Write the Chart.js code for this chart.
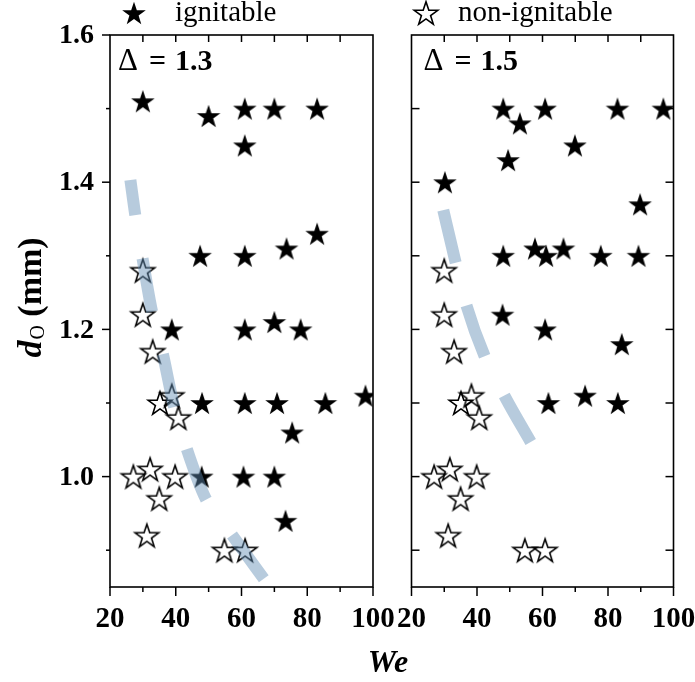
<!DOCTYPE html>
<html><head><meta charset="utf-8">
<script src="https://cdn.jsdelivr.net/npm/chart.js@4"></script>
<style>
html,body{margin:0;padding:0;background:#fff;}
#wrap{position:relative;width:695px;height:682px;background:#fff;}
#wrap canvas{position:absolute;left:0;top:0;}
</style></head><body>
<div id="wrap"><canvas id="c1" width="695" height="682"></canvas><canvas id="c2" width="695" height="682"></canvas></div>
<script>
// ---------- data ----------
const weMajor = [20, 40, 60, 80, 100];
const weMinor = [30, 50, 70, 90];
const weTickLabels = ['20', '40', '60', '80', '100'];
const dMajor = [1.0, 1.2, 1.4, 1.6];
const dMinor = [0.9, 1.1, 1.3, 1.5];
const dTickLabels = ['1.0', '1.2', '1.4', '1.6'];
const legendLabels = ['ignitable', 'non-ignitable'];
const panelDeltas = ['1.3', '1.5'];

// Delta = 1.3
const ign13We = [30, 50, 61, 61, 70, 83, 83, 47.4, 61, 73.7, 38.8, 61, 70, 78, 48, 61, 70.8, 85.5, 97.7, 75.4, 47.9, 60.6, 70, 73.4];
const ign13D  = [1.51, 1.49, 1.50, 1.45, 1.50, 1.50, 1.33, 1.30, 1.30, 1.31, 1.20, 1.20, 1.21, 1.20, 1.10, 1.10, 1.10, 1.10, 1.11, 1.06, 1.00, 1.00, 1.00, 0.94];
const non13We = [30, 30, 33, 35.2, 38.8, 40.8, 27.1, 32.2, 39.8, 35, 31.2, 54.8, 61.1];
const non13D  = [1.28, 1.22, 1.17, 1.10, 1.11, 1.08, 1.00, 1.01, 1.00, 0.97, 0.92, 0.90, 0.90];
const guide13We = [26.2, 27.7, 29.8, 32.7, 35.9, 39.5, 43.1, 49.0, 56.4, 67.8];
const guide13D  = [1.403, 1.355, 1.299, 1.226, 1.170, 1.095, 1.041, 0.971, 0.925, 0.855];

// Delta = 1.5
const ign15We = [48, 53.1, 60.8, 49.5, 69.9, 82.9, 96.9, 30.2, 89.8, 48, 57.7, 61.1, 66.4, 77.8, 89.3, 47.8, 60.8, 84.2, 61.8, 73, 83];
const ign15D  = [1.50, 1.48, 1.50, 1.43, 1.45, 1.50, 1.50, 1.40, 1.37, 1.30, 1.31, 1.30, 1.31, 1.30, 1.30, 1.22, 1.20, 1.18, 1.10, 1.11, 1.10];
const non15We = [30, 30, 33, 35.1, 38.3, 40.7, 26.9, 31.7, 39.9, 35, 31.2, 54.6, 60.8];
const non15D  = [1.28, 1.22, 1.17, 1.10, 1.11, 1.08, 1.00, 1.01, 1.00, 0.97, 0.92, 0.90, 0.90];
const guide15We = [29.7, 33.3, 36.9, 42.2, 48.6, 56.4];
const guide15D  = [1.362, 1.294, 1.231, 1.165, 1.108, 1.047];

// ---------- helpers ----------
const zip = (xs, ys) => xs.map((v, i) => ({x: v, y: ys[i]}));
function makeStar(filled) {
  const s = 30, c = document.createElement('canvas');
  c.width = s; c.height = s;
  const g = c.getContext('2d');
  const cx = s / 2, cy = s / 2 + 1.1, R = 12.4, r = R * 0.39;
  g.beginPath();
  for (let i = 0; i < 10; i++) {
    const ang = -Math.PI / 2 + i * Math.PI / 5;
    const rr = (i % 2) ? r : R;
    g.lineTo(cx + rr * Math.cos(ang), cy + rr * Math.sin(ang));
  }
  g.closePath();
  if (filled) { g.fillStyle = '#000'; g.fill(); }
  else { g.lineWidth = 1.6; g.strokeStyle = '#000'; g.lineJoin = 'miter'; g.stroke(); }
  return c;
}
const starFilled = makeStar(true);
const starOpen = makeStar(false);
const SERIF = '"Liberation Serif", "Times New Roman", serif';

const framePlugin = {
  id: 'frame',
  afterDraw(chart, args, o) {
    const {ctx, chartArea: a} = chart;
    const x = chart.scales.x, y = chart.scales.y;
    ctx.save();
    ctx.strokeStyle = '#000';
    ctx.lineWidth = 1.6;
    ctx.strokeRect(a.left, a.top, a.right - a.left, a.bottom - a.top);
    ctx.lineWidth = 1.5;
    const line = (x1, y1, x2, y2) => { ctx.beginPath(); ctx.moveTo(x1, y1); ctx.lineTo(x2, y2); ctx.stroke(); };
    weMajor.forEach(v => { const p = x.getPixelForValue(v); line(p, a.bottom, p, a.bottom + 9); });
    weMinor.forEach(v => { const p = x.getPixelForValue(v); line(p, a.bottom, p, a.bottom + 5); });
    weMajor.concat(weMinor).forEach(v => {
      const p = x.getPixelForValue(v);
      if (p > a.left + 1 && p < a.right - 1) line(p, a.top, p, a.top + 7);
    });
    if (o.left === 'out') {
      dMajor.forEach(v => { const p = y.getPixelForValue(v); line(a.left - 8, p, a.left, p); });
      dMinor.forEach(v => { const p = y.getPixelForValue(v); line(a.left - 4, p, a.left, p); });
    } else if (o.left === 'in') {
      dMajor.concat(dMinor).forEach(v => { const p = y.getPixelForValue(v); if (p > a.top + 1) line(a.left, p, a.left + 8, p); });
    }
    if (o.right === 'in') {
      dMajor.concat(dMinor).forEach(v => { const p = y.getPixelForValue(v); if (p > a.top + 1) line(a.right - 8, p, a.right, p); });
    }
    // x tick labels
    ctx.fillStyle = '#000';
    ctx.font = 'bold 29px ' + SERIF;
    ctx.textAlign = 'center';
    ctx.textBaseline = 'alphabetic';
    weMajor.forEach((v, i) => ctx.fillText(weTickLabels[i], x.getPixelForValue(v), a.bottom + 40));
    // y tick labels
    if (o.yLabels) {
      ctx.font = 'bold 28px ' + SERIF;
      ctx.textAlign = 'right';
      ctx.textBaseline = 'middle';
      dMajor.forEach((v, i) => ctx.fillText(dTickLabels[i], a.left - 16, y.getPixelForValue(v) + 1));
    }
    // panel label
    ctx.textAlign = 'left';
    ctx.textBaseline = 'alphabetic';
    const bx = a.left + o.labelDx, by = a.top + 35;
    ctx.font = '31px ' + SERIF;
    ctx.fillText('\u0394', bx, by);
    ctx.font = 'bold 30px ' + SERIF;
    ctx.fillText('=', bx + 31, by);
    ctx.fillText(o.delta, bx + 57, by);
    ctx.restore();
  }
};

const pagePlugin = {
  id: 'page',
  afterDraw(chart) {
    const ctx = chart.ctx;
    ctx.save();
    ctx.fillStyle = '#000';
    // legend
    ctx.drawImage(starFilled, 134 - 15, 13 - 15);
    ctx.drawImage(starOpen, 426 - 15, 13 - 15);
    ctx.font = '29px ' + SERIF;
    ctx.textAlign = 'left';
    ctx.textBaseline = 'alphabetic';
    ctx.fillText(legendLabels[0], 175, 21);
    ctx.fillText(legendLabels[1], 458, 21);
    // x title
    ctx.font = 'bold italic 32px ' + SERIF;
    ctx.textAlign = 'center';
    ctx.fillText('We', 388, 672);
    // y title
    ctx.translate(41, 298);
    ctx.rotate(-Math.PI / 2);
    const f1 = 'bold italic 34px ' + SERIF, f2 = '20px ' + SERIF, f3 = 'bold 34px ' + SERIF;
    ctx.font = f1; const w1 = ctx.measureText('d').width;
    ctx.font = f2; const w2 = ctx.measureText('O').width;
    ctx.font = f3; const w3 = ctx.measureText(' (mm)').width;
    let sx = -(w1 + w2 + w3) / 2;
    ctx.textAlign = 'left';
    ctx.font = f1; ctx.fillText('d', sx, 0); sx += w1 + 1;
    ctx.font = f2; ctx.fillText('O', sx, 3); sx += w2;
    ctx.font = f3; ctx.fillText(' (mm)', sx, 0);
    ctx.restore();
  }
};

function panelConfig(ignWe, ignD, nonWe, nonD, gWe, gD, pad, frameOpts, dashOffset, extraPlugins) {
  return {
    type: 'scatter',
    data: {
      datasets: [
        {
          type: 'line', label: 'guide', data: zip(gWe, gD),
          borderColor: 'rgba(95,140,180,0.45)', borderWidth: 12,
          borderDash: [54, 44], borderDashOffset: dashOffset, borderCapStyle: 'butt',
          cubicInterpolationMode: 'monotone', pointRadius: 0, fill: false, clip: 0
        },
        { label: legendLabels[0], data: zip(ignWe, ignD), pointStyle: starFilled, pointRadius: 12, clip: 0 },
        { label: legendLabels[1], data: zip(nonWe, nonD), pointStyle: starOpen, pointRadius: 12, clip: 0 }
      ]
    },
    options: {
      responsive: false, animation: false, devicePixelRatio: 1, events: [],
      layout: {padding: pad},
      scales: {
        x: {type: 'linear', min: 20, max: 100, display: false},
        y: {type: 'linear', min: 0.85, max: 1.6, display: false}
      },
      plugins: {legend: {display: false}, tooltip: {enabled: false}, frame: frameOpts}
    },
    plugins: [framePlugin].concat(extraPlugins)
  };
}

new Chart(document.getElementById('c1'), panelConfig(
  ign13We, ign13D, non13We, non13D, guide13We, guide13D,
  {left: 110, right: 322, top: 35, bottom: 95},
  {left: 'out', right: null, yLabels: true, delta: panelDeltas[0], labelDx: 8},
  18.6, [pagePlugin]));

new Chart(document.getElementById('c2'), panelConfig(
  ign15We, ign15D, non15We, non15D, guide15We, guide15D,
  {left: 411.5, right: 21.5, top: 35, bottom: 95},
  {left: 'in', right: 'in', yLabels: false, delta: panelDeltas[1], labelDx: 12},
  0, []));
</script>
</body></html>
